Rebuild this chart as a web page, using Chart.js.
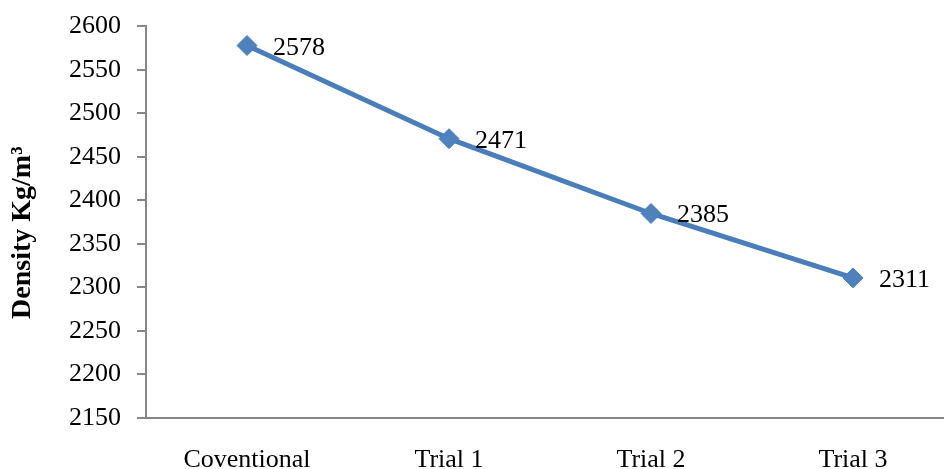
<!DOCTYPE html>
<html>
<head>
<meta charset="utf-8">
<script src="https://cdn.jsdelivr.net/npm/chart.js@4.4.1/dist/chart.umd.min.js"></script>
<style>
  html, body { margin: 0; padding: 0; background: #fff; overflow: hidden; width: 944px; height: 469px; }
  canvas { display: block; }
</style>
</head>
<body>
<canvas id="c" width="965" height="469"></canvas>
<script>
const categories = ["Coventional", "Trial 1", "Trial 2", "Trial 3"];
const densityValues = [2578, 2471, 2385, 2311];
const yAxisTitle = "Density Kg/m\u00B3";
const yMin = 2150, yMax = 2600, yStep = 50;

const serif = "'Liberation Serif', 'Times New Roman', serif";

const dataLabelPlugin = {
  id: 'dataLabels',
  afterDatasetsDraw(chart) {
    const ctx = chart.ctx;
    const meta = chart.getDatasetMeta(0);
    ctx.save();
    ctx.font = "26px " + serif;
    ctx.fillStyle = "#000";
    ctx.textAlign = "left";
    ctx.textBaseline = "alphabetic";
    meta.data.forEach((pt, i) => {
      ctx.fillText(String(densityValues[i]), pt.x + 26, pt.y + 9);
    });
    ctx.restore();
  }
};

new Chart(document.getElementById('c'), {
  type: 'line',
  data: {
    labels: categories,
    datasets: [{
      data: densityValues,
      borderColor: '#4A7EBB',
      borderWidth: 5,
      backgroundColor: '#4F81BD',
      pointStyle: 'rectRot',
      pointRadius: 10,
      pointBorderWidth: 1,
      pointBorderColor: '#4A7EBB',
      pointBackgroundColor: '#4F81BD',
      tension: 0,
      fill: false
    }]
  },
  options: {
    responsive: false,
    animation: false,
    events: [],
    layout: { padding: { top: 25, right: 5, bottom: 0, left: 0 } },
    plugins: {
      legend: { display: false },
      tooltip: { enabled: false }
    },
    scales: {
      x: {
        type: 'category',
        offset: true,
        grid: { display: false, drawTicks: false },
        border: { display: true, color: '#868686', width: 2 },
        ticks: {
          color: '#000',
          font: { family: serif, size: 26 },
          padding: 27,
          maxRotation: 0,
          autoSkip: false
        },
        afterFit(scale) { scale.height = 51; }
      },
      y: {
        min: yMin,
        max: yMax,
        grid: { drawOnChartArea: false, drawTicks: true, tickLength: 9, color: '#868686', lineWidth: 2 },
        border: { display: true, color: '#868686', width: 2 },
        ticks: {
          stepSize: yStep,
          color: '#000',
          font: { family: serif, size: 26, lineHeight: 0.8 },
          padding: 16,
          callback: (v) => String(v)
        },
        title: {
          display: true,
          text: yAxisTitle + "   ",
          color: '#000',
          font: { family: serif, size: 28, weight: 'bold' },
          padding: { top: 6, bottom: 0 }
        },
        afterFit(scale) { scale.width = 146; }
      }
    }
  },
  plugins: [dataLabelPlugin]
});
</script>
</body>
</html>
